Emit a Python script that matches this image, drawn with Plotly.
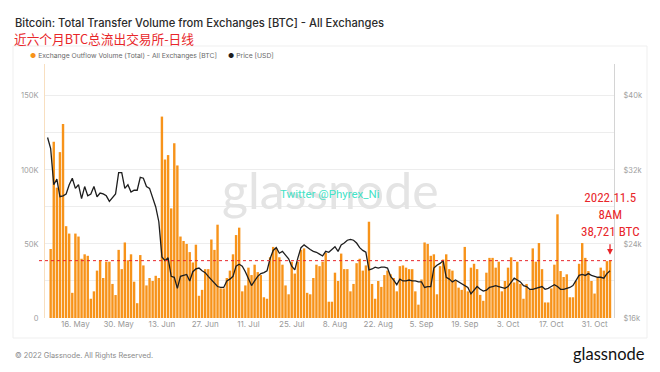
import plotly.graph_objects as go
import pandas as pd

# ---------------- data ----------------
bar_start, bar_end = "2022-05-08", "2022-11-05"
price_start, price_end = "2022-05-07", "2022-11-05"

# Exchange outflow volume (thousand BTC), daily 8 May - 5 Nov 2022
outflow_k = [
    46.6, 119, 88, 112, 131, 62, 57, 17, 57, 55,
    40, 43, 42, 13, 18, 32, 39, 27, 38, 38,
    23, 15.5, 46, 33, 51, 39, 43, 24.5, 10, 42.5,
    35.5, 22, 27, 25, 28.5, 27, 136, 107, 110, 74,
    118, 103, 55, 52, 50, 44.5, 37.5, 49.5,
    15, 19, 33, 33, 53, 46, 63, 20, 20, 27, 32, 43,
    56, 61, 18, 22, 34, 29, 36, 31, 29, 14, 13, 41,
    48, 47, 41, 36, 22, 16, 38, 30, 38, 46, 47, 17,
    16, 27, 36, 35, 38, 44, 11, 11,
    30.6, 25, 43.5, 33, 33, 18, 23, 37, 40, 32, 35.5, 65,
    23, 13, 25, 21, 29, 32, 29.5, 27, 18, 35, 35.5, 34,
    33, 33, 18, 9, 26, 51, 50, 42, 43, 16, 35, 39.5,
    43, 33, 32, 25, 20.5, 19, 48, 18, 34, 36.6, 33, 15.6,
    11.6, 30.6, 40.6, 40.6, 34, 38, 18, 25, 34, 41, 24, 38,
    23, 13, 23, 19, 47, 38, 50.6, 33, 10.5, 10.5, 20, 36,
    70, 31.7, 27.7, 29.5, 14, 14, 25, 36.6, 50.6, 40.6, 31.7, 25,
    16.5, 27.7, 34, 32, 38.4, 38.721,
]

# BTC price (thousand USD), daily 7 May - 5 Nov 2022
price_k = [
    35.5, 34.3, 30.4, 31.0, 29.1, 29.2, 29.4, 30.4, 31.1, 30.0,
    30.4, 28.9, 30.2, 29.2, 29.4, 30.2, 29.1, 29.5, 29.4, 29.2,
    28.6, 29.0, 29.4, 31.7, 31.7, 30.0, 30.4, 29.6, 29.8, 29.8,
    31.2, 31.1, 30.2, 30.0, 29.1, 28.0, 26.4, 22.6, 22.2, 22.5,
    20.5, 20.4, 19.2, 20.5, 20.6, 20.7, 20.0, 21.0, 21.3, 21.4,
    21.1, 20.9, 20.5, 20.1, 19.8, 19.4, 19.3, 19.3, 20.0, 20.2,
    20.5, 21.6, 21.8, 21.6, 21.0, 20.2, 19.5, 20.0, 20.5, 20.8,
    20.9, 21.1, 22.4, 23.3, 23.6, 23.0, 23.2, 22.8, 22.4, 21.6,
    21.2, 22.5, 23.6, 23.9, 23.6, 23.4, 23.2, 23.1, 22.9, 22.7,
    23.2, 23.1, 23.4, 23.7, 23.2, 23.9, 24.1, 24.4, 24.5, 24.4,
    24.1, 23.6, 23.3, 23.1, 21.2, 21.3, 21.5, 21.4, 21.5, 21.5,
    21.4, 20.5, 20.1, 19.6, 20.2, 20.0, 20.0, 20.1, 20.0, 20.0,
    19.9, 19.9, 19.3, 19.4, 19.4, 21.4, 21.7, 21.9, 22.2, 20.4,
    20.2, 19.9, 20.1, 19.9, 19.7, 19.5, 19.3, 18.6, 19.0, 19.4,
    19.1, 18.9, 19.0, 19.3, 19.4, 19.5, 19.4, 19.3, 19.2, 19.4,
    19.9, 20.3, 20.1, 19.9, 19.5, 19.4, 19.1, 19.1, 19.2, 19.3,
    19.4, 19.1, 19.2, 19.4, 19.6, 19.4, 19.1, 19.1, 19.2, 19.3,
    19.5, 20.0, 20.6, 20.7, 20.6, 20.8, 20.6, 20.5, 20.4, 20.4,
    20.3, 20.8, 21.1,
]

tick_dates = ["2022-05-16", "2022-05-30", "2022-06-13", "2022-06-27", "2022-07-11",
              "2022-07-25", "2022-08-08", "2022-08-22", "2022-09-05", "2022-09-19",
              "2022-10-03", "2022-10-17", "2022-10-31"]
tick_labels = ["16. May", "30. May", "13. Jun", "27. Jun", "11. Jul", "25. Jul", "8. Aug",
               "22. Aug", "5. Sep", "19. Sep", "3. Oct", "17. Oct", "31. Oct"]

vol_tickvals = [0, 50000, 100000, 150000]
vol_ticktext = ["0", "50K", "100K", "150K"]
price_tickvals = [16000, 24000, 32000, 40000]
price_ticktext = ["$16k", "$24k", "$32k", "$40k"]

latest_value = 38721
latest_label = "2022.11.5<br>8AM<br>38,721 BTC"

# ---------------- build ----------------
bar_dates = pd.date_range(bar_start, bar_end, freq="D")
price_dates = pd.date_range(price_start, price_end, freq="D")
outflow = [v * 1000 for v in outflow_k]
price = [v * 1000 for v in price_k]

ORANGE = "#f7931a"
RED = "#e8262a"
VMAX = 171500
PMIN = 16000
PMAX = PMIN + VMAX * 0.16

fig = go.Figure()
fig.add_trace(go.Bar(x=bar_dates, y=outflow, marker=dict(color=ORANGE, line=dict(width=0)),
                     name="Exchange Outflow Volume (Total) - All Exchanges [BTC]", yaxis="y"))
fig.add_trace(go.Scatter(x=price_dates, y=price, mode="lines", line=dict(color="#1e1e1e", width=1.3),
                         name="Price [USD]", yaxis="y2"))

W, H = 660, 372
L, R, T, B = 45, 46, 64, 54
pw, ph = W - L - R, H - T - B


def px(xp):
    return (xp - L) / pw


def py(yp):
    return (H - B - yp) / ph


fig.update_layout(
    width=W, height=H,
    margin=dict(l=L, r=R, t=T, b=B),
    paper_bgcolor="white", plot_bgcolor="white",
    showlegend=False,
    bargap=0.22,
    font=dict(family="Inter, Lato, sans-serif", color="#999999", size=8),
    xaxis=dict(
        type="date",
        range=["2022-05-06 04:00", "2022-11-06 07:00"],
        tickvals=tick_dates, ticktext=tick_labels,
        showgrid=False, zeroline=False, showline=False,
        tickfont=dict(size=8, color="#999999"),
        ticks="",
    ),
    yaxis=dict(
        range=[0, VMAX],
        tickvals=vol_tickvals, ticktext=vol_ticktext,
        showgrid=True, gridcolor="#ededed", gridwidth=1,
        minor=dict(dtick=25000, tick0=0, showgrid=True, gridcolor="#ededed"),
        zeroline=False,
        showline=True, linecolor="#f8dfc0", linewidth=1,
        tickfont=dict(size=7.5, color="#a0a0a0"),
        ticks="", ticklabelstandoff=4,
    ),
    yaxis2=dict(
        overlaying="y", side="right",
        range=[PMIN, PMAX],
        tickvals=price_tickvals, ticktext=price_ticktext,
        showgrid=False, zeroline=False,
        showline=True, linecolor="#d4d4d4", linewidth=1,
        tickfont=dict(size=7.5, color="#a0a0a0"),
        ticks="", ticklabelstandoff=7,
    ),
)

# card outline
fig.add_shape(type="rect", xref="paper", yref="paper",
              x0=px(13), x1=px(647), y0=py(338), y1=py(46),
              line=dict(color="#efefef", width=1), layer="below")

# reference dashed line
fig.add_shape(type="line", xref="paper", yref="y",
              x0=px(39), x1=px(612), y0=latest_value, y1=latest_value,
              line=dict(color=RED, width=1, dash="3px,3px"))

ann = []
# watermark
ann.append(dict(xref="paper", yref="paper", x=px(330), y=py(190), text="glassnode",
                showarrow=False, font=dict(family="Lato, Inter, sans-serif", size=50, color="#e4e4e4"),
                xanchor="center", yanchor="middle"))
ann.append(dict(xref="paper", yref="paper", x=px(330), y=py(194), text="Twitter @Phyrex_Ni",
                showarrow=False, font=dict(family="Roboto, sans-serif", size=11.5, color="#45e2c6"),
                xanchor="center", yanchor="middle"))
# titles
ann.append(dict(xref="paper", yref="paper", x=px(13), y=py(23),
                text="Bitcoin: Total Transfer Volume from Exchanges [BTC] - All Exchanges",
                showarrow=False, font=dict(family="Inter, sans-serif", size=11.2, color="#2b2b2b", weight=500),
                xanchor="left", yanchor="middle"))
ann.append(dict(xref="paper", yref="paper", x=px(12), y=py(38.5),
                text="近六个月BTC总流出交易所-日线",
                showarrow=False, font=dict(family="Noto Sans CJK SC, sans-serif", size=12.7, color=RED),
                xanchor="left", yanchor="middle"))
# legend
ann.append(dict(xref="paper", yref="paper", x=px(28), y=py(55),
                text=f"<span style='color:{ORANGE}'>●</span> Exchange Outflow Volume (Total) - All Exchanges [BTC]",
                showarrow=False, font=dict(family="Inter, sans-serif", size=6.8, color="#6a6a6a"),
                xanchor="left", yanchor="middle"))
ann.append(dict(xref="paper", yref="paper", x=px(226), y=py(55),
                text="<span style='color:#1e1e1e'>●</span> Price [USD]",
                showarrow=False, font=dict(family="Inter, sans-serif", size=6.8, color="#6a6a6a"),
                xanchor="left", yanchor="middle"))
# footer
ann.append(dict(xref="paper", yref="paper", x=px(13), y=py(355),
                text="© 2022 Glassnode. All Rights Reserved.",
                showarrow=False, font=dict(family="Inter, sans-serif", size=7.3, color="#8a8a8a"),
                xanchor="left", yanchor="middle"))
ann.append(dict(xref="paper", yref="paper", x=px(647), y=py(354),
                text="glassnode",
                showarrow=False, font=dict(family="Lato, Inter, sans-serif", size=16.5, color="#111111"),
                xanchor="right", yanchor="middle"))
# latest value annotation
ann.append(dict(xref="x", yref="paper", x=bar_dates[-1], y=py(241),
                text=latest_label, showarrow=False, align="center",
                font=dict(family="Liberation Sans Narrow, Roboto Condensed, DejaVu Sans Condensed, Roboto, sans-serif",
                          size=13, color=RED),
                xanchor="center", yanchor="bottom"))
ann.append(dict(xref="x", yref="y", x=bar_dates[-1], y=outflow[-1] + 4000,
                ax=0, ay=-12, text="", showarrow=True, arrowhead=2, arrowsize=0.9,
                arrowwidth=1.3, arrowcolor=RED))
fig.update_layout(annotations=ann)

fig.write_html("out.html", config={"displayModeBar": False},
               post_script="document.body.style.margin='0px';")
